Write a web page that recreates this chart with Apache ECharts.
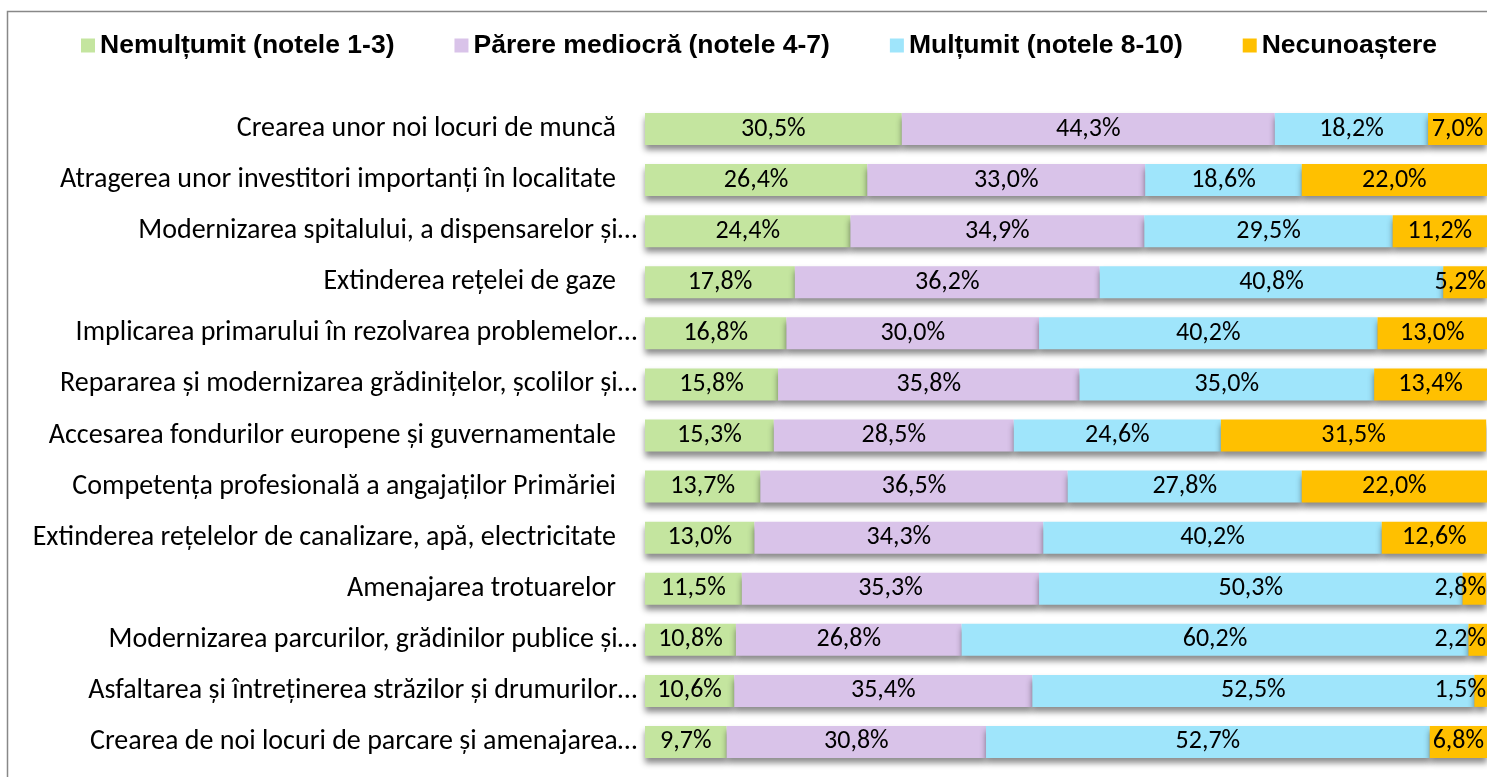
<!DOCTYPE html>
<html>
<head>
<meta charset="utf-8">
<script src="https://cdn.jsdelivr.net/npm/echarts@6/dist/echarts.min.js"></script>
<style>
  html, body { margin: 0; padding: 0; background: #fff; }
  #container { width: 1487px; height: 777px; }
</style>
</head>
<body>
<div id="container"></div>
<script>
/* date din grafic */
const categories = [
    'Crearea unor noi locuri de muncă',
    'Atragerea unor investitori importanți în localitate',
    'Modernizarea spitalului, a dispensarelor și…',
    'Extinderea rețelei de gaze',
    'Implicarea primarului în rezolvarea problemelor…',
    'Repararea și modernizarea grădinițelor, școlilor și…',
    'Accesarea fondurilor europene și guvernamentale',
    'Competența profesională a angajaților Primăriei',
    'Extinderea rețelelor de canalizare, apă, electricitate',
    'Amenajarea trotuarelor',
    'Modernizarea parcurilor, grădinilor publice și…',
    'Asfaltarea și întreținerea străzilor și drumurilor…',
    'Crearea de noi locuri de parcare și amenajarea…'
];
const seriesNames = ['Nemulțumit (notele 1-3)', 'Părere mediocră (notele 4-7)', 'Mulțumit (notele 8-10)', 'Necunoaștere'];
const nemultumit = [30.5, 26.4, 24.4, 17.8, 16.8, 15.8, 15.3, 13.7, 13.0, 11.5, 10.8, 10.6, 9.7];
const mediocru   = [44.3, 33.0, 34.9, 36.2, 30.0, 35.8, 28.5, 36.5, 34.3, 35.3, 26.8, 35.4, 30.8];
const multumit   = [18.2, 18.6, 29.5, 40.8, 40.2, 35.0, 24.6, 27.8, 40.2, 50.3, 60.2, 52.5, 52.7];
const necunoas   = [7.0, 22.0, 11.2, 5.2, 13.0, 13.4, 31.5, 22.0, 12.6, 2.8, 2.2, 1.5, 6.8];
const colors = ['#C4E59F', '#D9C3E9', '#9FE5FB', '#FFC000'];

const textFont = 'Carlito, Calibri, Lato, sans-serif';

function bar_series(name, data) {
    return {
        name: name,
        type: 'bar',
        stack: 'total',
        barWidth: 32,
        data: data,
        itemStyle: {
            shadowBlur: 6,
            shadowOffsetY: 5,
            shadowColor: 'rgba(0,0,0,0.45)'
        },
        label: {
            show: true,
            position: 'inside',
            color: '#000',
            fontFamily: textFont,
            fontSize: 26,
            formatter: p => p.value.toFixed(1).replace('.', ',') + '%'
        },
        // etichetele care ies din zona graficului sunt trase inapoi (ca in Excel)
        labelLayout: function (p) {
            const r = p.labelRect;
            const maxRight = 1486;
            if (r.x + r.width > maxRight) {
                return { dx: maxRight - (r.x + r.width) };
            }
        }
    };
}

const myChart = echarts.init(document.getElementById('container'));
const option = {
    animation: false,
    color: colors,
    legend: {
        top: 27,
        left: 76,
        icon: 'rect',
        itemWidth: 14,
        itemHeight: 14,
        itemGap: 60,
        textStyle: {
            fontFamily: 'Liberation Sans, Arial, sans-serif',
            fontWeight: 'bold',
            fontSize: 26.5,
            color: '#000'
        },
        data: seriesNames
    },
    grid: { left: 645, top: 103.5, width: 849, height: 664 },
    xAxis: { type: 'value', min: 0, max: 100, show: false },
    yAxis: {
        type: 'category',
        inverse: true,
        data: categories,
        axisLine: { show: false },
        axisTick: { show: false },
        axisLabel: {
            margin: 8,
            color: '#000',
            fontFamily: textFont,
            fontSize: 28,
            // textele netrunchiate au un spatiu in plus la dreapta
            formatter: v => v.endsWith('…') ? '{t|' + v + '}' : '{p|' + v + '}',
            rich: {
                t: { fontFamily: textFont, fontSize: 28, color: '#000' },
                p: { fontFamily: textFont, fontSize: 28, color: '#000', padding: [0, 21, 0, 0] }
            }
        }
    },
    graphic: [{
        type: 'rect',
        shape: { x: 7.5, y: 11.5, width: 1600, height: 900 },
        style: { fill: 'none', stroke: '#888', lineWidth: 1.5 },
        silent: true
    }],
    series: [
        bar_series(seriesNames[0], nemultumit),
        bar_series(seriesNames[1], mediocru),
        bar_series(seriesNames[2], multumit),
        bar_series(seriesNames[3], necunoas)
    ]
};
myChart.setOption(option);
</script>
</body>
</html>
